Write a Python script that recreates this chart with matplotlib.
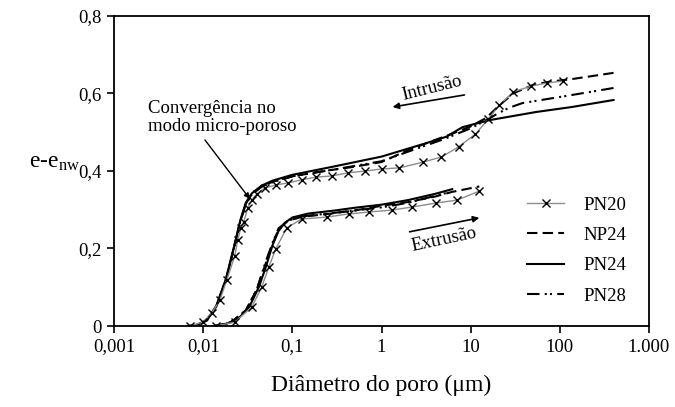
#!/usr/bin/env python3
"""Intrusion / extrusion curves (e - e_nw vs pore diameter) for four mixtures."""

import matplotlib.pyplot as plt

plt.rcParams["font.family"] = ["Liberation Serif", "DejaVu Serif"]
plt.rcParams["mathtext.fontset"] = "custom"
plt.rcParams["mathtext.rm"] = "Liberation Serif"
plt.rcParams["mathtext.it"] = "Liberation Serif:italic"

# pore diameter (um) and void ratio, intrusion branch (large -> small pores)
pn20_int_d = [109, 72, 48, 30, 21, 15.8, 11.3, 7.3, 4.7, 2.95, 1.59, 1.0, 0.66, 0.42,
              0.275, 0.182, 0.127, 0.089, 0.066, 0.049, 0.040, 0.035, 0.0316, 0.0285,
              0.0264, 0.0244, 0.0226, 0.0184, 0.0154, 0.0125, 0.0099, 0.0071]
pn20_int_e = [0.632, 0.627, 0.619, 0.604, 0.570, 0.534, 0.495, 0.462, 0.436, 0.423,
              0.408, 0.405, 0.400, 0.395, 0.387, 0.384, 0.377, 0.369, 0.364, 0.356,
              0.341, 0.325, 0.305, 0.268, 0.253, 0.222, 0.181, 0.119, 0.067, 0.034,
              0.010, 0.0]
np24_int_d = [400, 137, 75, 50, 30, 20, 15, 10, 6.2, 4, 2, 1, 0.5, 0.2, 0.1, 0.06, 0.045,
              0.035, 0.03, 0.026, 0.022, 0.018, 0.014, 0.011, 0.0085, 0.007]
np24_int_e = [0.653, 0.637, 0.630, 0.622, 0.600, 0.565, 0.537, 0.515, 0.496, 0.480,
              0.454, 0.423, 0.411, 0.398, 0.386, 0.372, 0.360, 0.340, 0.315, 0.270,
              0.200, 0.120, 0.050, 0.015, 0.003, 0.0]
pn24_int_d = [400, 137, 54, 16.2, 8.1, 5.3, 3, 1, 0.3, 0.1, 0.06, 0.045, 0.035, 0.03,
              0.026, 0.022, 0.018, 0.014, 0.011, 0.0085, 0.0068]
pn24_int_e = [0.583, 0.565, 0.552, 0.531, 0.513, 0.488, 0.470, 0.437, 0.412, 0.390,
              0.375, 0.362, 0.342, 0.318, 0.272, 0.202, 0.122, 0.052, 0.016, 0.003, 0.0]
pn28_int_d = [400, 137, 38, 27, 20, 15.8, 10, 5, 2, 1, 0.3, 0.1, 0.06, 0.045, 0.035,
              0.03, 0.026, 0.022, 0.018, 0.014, 0.011, 0.0085, 0.007]
pn28_int_e = [0.614, 0.596, 0.575, 0.563, 0.548, 0.534, 0.510, 0.482, 0.450, 0.425,
              0.404, 0.386, 0.371, 0.359, 0.339, 0.314, 0.269, 0.199, 0.119, 0.049,
              0.014, 0.003, 0.0]

# extrusion branch (small -> large pores)
pn20_ext_d = [0.0139, 0.0226, 0.0351, 0.0454, 0.0544, 0.0651, 0.0865, 0.127, 0.242,
              0.427, 0.716, 1.30, 2.22, 4.03, 7.1, 12.5]
pn20_ext_e = [0.0, 0.010, 0.049, 0.101, 0.152, 0.199, 0.253, 0.276, 0.281, 0.289,
              0.294, 0.299, 0.307, 0.317, 0.325, 0.348]
np24_ext_d = [0.0135, 0.02, 0.03, 0.04, 0.05, 0.06, 0.07, 0.09, 0.13, 0.25, 0.5, 1, 2,
              4, 6.2, 12.5]
np24_ext_e = [0.0, 0.008, 0.040, 0.095, 0.160, 0.212, 0.250, 0.272, 0.282, 0.289,
              0.298, 0.310, 0.320, 0.334, 0.346, 0.360]
pn24_ext_d = [0.013, 0.018, 0.025, 0.033, 0.042, 0.05, 0.06, 0.07, 0.082, 0.1, 0.15,
              0.3, 0.5, 1, 2, 4, 6.2]
pn24_ext_e = [0.0, 0.005, 0.020, 0.050, 0.100, 0.150, 0.209, 0.245, 0.266, 0.280,
              0.290, 0.298, 0.305, 0.313, 0.325, 0.341, 0.353]
pn28_ext_d = [0.0135, 0.02, 0.03, 0.04, 0.05, 0.06, 0.07, 0.09, 0.13, 0.25, 0.5, 1, 2,
              5.3]
pn28_ext_e = [0.0, 0.008, 0.040, 0.095, 0.165, 0.215, 0.252, 0.272, 0.283, 0.290,
              0.298, 0.306, 0.318, 0.343]

x_ticks = [0.001, 0.01, 0.1, 1, 10, 100, 1000]
x_labels = ["0,001", "0,01", "0,1", "1", "10", "100", "1.000"]
y_ticks = [0, 0.2, 0.4, 0.6, 0.8]
y_labels = ["0", "0,2", "0,4", "0,6", "0,8"]

styles = {
    "PN20": dict(color="#8c8c8c", lw=1.0, marker="x", ms=6, mec="black", mew=1.0),
    "NP24": dict(color="black", lw=1.5, dashes=(5, 2.5)),
    "PN24": dict(color="black", lw=1.5),
    "PN28": dict(color="black", lw=1.5, dashes=(6, 2.5, 1, 1.5, 1, 2.5)),
}
curves = {
    "PN20": [(pn20_int_d, pn20_int_e), (pn20_ext_d, pn20_ext_e)],
    "NP24": [(np24_int_d, np24_int_e), (np24_ext_d, np24_ext_e)],
    "PN24": [(pn24_int_d, pn24_int_e), (pn24_ext_d, pn24_ext_e)],
    "PN28": [(pn28_int_d, pn28_int_e), (pn28_ext_d, pn28_ext_e)],
}

fig = plt.figure(figsize=(6.75, 4.07), dpi=100)
ax = fig.add_axes([0.169, 0.199, 0.7925, 0.762])

for name in ["PN24", "NP24", "PN28", "PN20"]:
    for i, (d, e) in enumerate(curves[name]):
        ax.plot(d, e, label=name if i == 0 else None, **styles[name])

ax.set_xscale("log")
ax.set_xlim(0.001, 1000)
ax.set_ylim(0, 0.8)
ax.set_xticks(x_ticks)
ax.set_xticklabels(x_labels)
ax.set_yticks(y_ticks)
ax.set_yticklabels(y_labels)
ax.minorticks_off()
ax.tick_params(direction="out", length=5, width=1.2, labelsize=13.5, pad=4)
for s in ax.spines.values():
    s.set_linewidth(1.3)

ax.set_xlabel("Diâmetro do poro (μm)", fontsize=17, labelpad=14)
fig.text(55 / 675, 1 - 163 / 407, r"e-e$_{\mathrm{nw}}$", fontsize=17,
         ha="center", va="center")

handles, labels = ax.get_legend_handles_labels()
order = ["PN20", "NP24", "PN24", "PN28"]
hmap = dict(zip(labels, handles))
ax.legend([hmap[k] for k in order], order, loc="lower right",
          bbox_to_anchor=(0.971, 0.045), borderaxespad=0, frameon=False,
          fontsize=13.5, handlelength=2.0, labelspacing=0.7, handletextpad=1.0)

arrow = dict(arrowstyle="-|>", color="black", lw=1.2, mutation_scale=9,
             shrinkA=0, shrinkB=0)
ax.annotate("", xy=(1.33, 0.565), xytext=(8.5, 0.596), arrowprops=arrow)
ax.text(3.72, 0.614, "Intrusão", fontsize=13.5, rotation=14,
        ha="center", va="center", rotation_mode="anchor")
ax.annotate("", xy=(12.5, 0.279), xytext=(2.06, 0.243), arrowprops=arrow)
ax.text(5.07, 0.222, "Extrusão", fontsize=13.5, rotation=12,
        ha="center", va="center", rotation_mode="anchor")

ax.annotate("", xy=(0.0333, 0.328), xytext=(0.01045, 0.48),
            arrowprops=dict(arrowstyle="-|>", color="black", lw=1.0,
                            mutation_scale=8, shrinkA=0, shrinkB=0))
ax.text(0.0024, 0.538, "Convergência no\nmodo micro-poroso", fontsize=13.5,
        ha="left", va="center", linespacing=1.1)

fig.savefig("out.png", dpi=100)
